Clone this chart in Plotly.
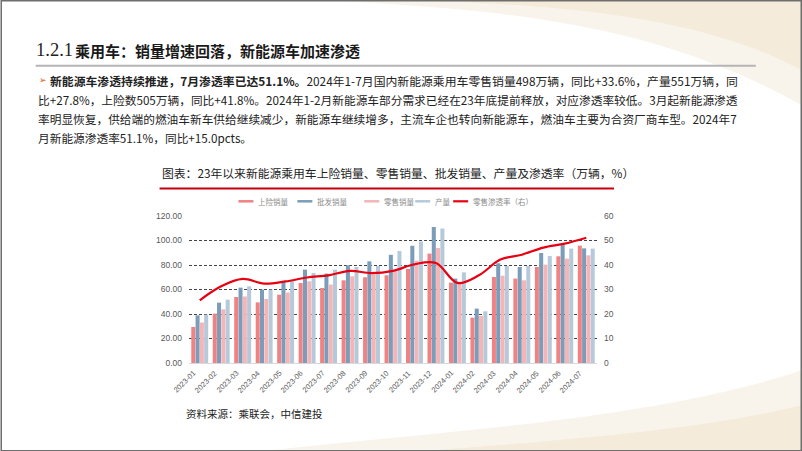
import plotly.graph_objects as go

months = ["2023-01", "2023-02", "2023-03", "2023-04", "2023-05", "2023-06", "2023-07",
          "2023-08", "2023-09", "2023-10", "2023-11", "2023-12", "2024-01", "2024-02",
          "2024-03", "2024-04", "2024-05", "2024-06", "2024-07"]
insured = [29.4, 40.3, 53.9, 49.5, 55.8, 65.3, 61.2, 67.5, 70.0, 71.6, 76.8, 89.3, 65.6, 37.0, 70.2, 68.9, 78.4, 87.1, 95.8]
wholesale = [38.9, 49.3, 61.5, 59.9, 66.1, 76.2, 73.0, 79.8, 83.0, 88.3, 95.7, 111.0, 68.9, 44.4, 81.4, 78.4, 89.8, 96.5, 93.6]
retail = [33.0, 43.8, 54.3, 52.3, 57.5, 66.7, 64.0, 70.8, 72.4, 75.0, 83.5, 93.9, 65.2, 38.4, 71.3, 67.5, 80.3, 85.2, 87.9]
production = [39.5, 51.7, 62.6, 59.9, 66.7, 73.5, 76.2, 78.4, 79.2, 91.4, 99.2, 109.7, 74.0, 42.2, 79.2, 79.2, 87.3, 93.4, 93.4]
penetration = [25.6, 31.3, 34.3, 32.4, 33.3, 34.9, 35.8, 37.6, 36.7, 37.6, 40.3, 40.8, 32.7, 35.8, 42.2, 44.2, 47.1, 48.7, 51.1]

series_names = ["上险销量", "批发销量", "零售销量", "产量"]
series_vals = [insured, wholesale, retail, production]
series_colors = ["#F08283", "#7B9DB9", "#F5B5B6", "#B5C9DA"]
line_name = "零售渗透率（右）"
line_color = "#E60012"

FIG_W, FIG_H = 802, 451
L, R, T, B = 188.5, 597, 215.7, 362.7
W, H = R - L, B - T


def px(x):
    return (x - L) / W


def py(y):
    return (B - y) / H


CJK = "Noto Sans CJK SC"
fig = go.Figure()

for name, vals, col in zip(series_names, series_vals, series_colors):
    fig.add_trace(go.Bar(x=months, y=vals, name=name, marker_color=col,
                         marker_line_width=0, showlegend=False))
fig.add_trace(go.Scatter(x=months, y=penetration, name=line_name, yaxis="y2",
                         mode="lines", line=dict(color=line_color, width=2.2, shape="spline"),
                         showlegend=False))

shapes = []
annotations = []


def path_from(points, close=True):
    s = "M %f,%f " % (px(points[0][0]), py(points[0][1]))
    for p in points[1:]:
        s += "L %f,%f " % (px(p[0]), py(p[1]))
    if close:
        s += "Z"
    return s


def bez(p0, c1, c2, p1, n=30):
    pts = []
    for i in range(n + 1):
        t = i / n
        x = (1 - t) ** 3 * p0[0] + 3 * (1 - t) ** 2 * t * c1[0] + 3 * (1 - t) * t ** 2 * c2[0] + t ** 3 * p1[0]
        y = (1 - t) ** 3 * p0[1] + 3 * (1 - t) ** 2 * t * c1[1] + 3 * (1 - t) * t ** 2 * c2[1] + t ** 3 * p1[1]
        pts.append((x, y))
    return pts


# decorative swooshes
top1 = bez((330, 0), (500, 10), (650, 20), (802, 105)) + [(802, 0)]
top2 = bez((420, 0), (560, 5), (700, 15), (802, 70)) + [(802, 0)]
bot1 = bez((260, 451), (450, 430), (650, 420), (802, 370)) + [(802, 451)]
bot2 = bez((420, 451), (560, 440), (700, 430), (802, 405)) + [(802, 451)]
for pts, op in [(top1, 0.35), (top2, 0.45), (bot1, 0.35), (bot2, 0.45)]:
    shapes.append(dict(type="path", xref="paper", yref="paper", path=path_from(pts),
                       fillcolor="#EEDFC6", opacity=op, line=dict(width=0), layer="below"))

# border
shapes.append(dict(type="rect", xref="paper", yref="paper", x0=px(0.5), x1=px(801.5),
                   y0=py(450.5), y1=py(0.5), line=dict(color="#6E6E6E", width=1.5)))
# title underline
shapes.append(dict(type="line", xref="paper", yref="paper", x0=px(35), x1=px(756),
                   y0=py(65.5), y1=py(65.5), line=dict(color="#B5B5B5", width=2)))
# chart title underline
shapes.append(dict(type="line", xref="paper", yref="paper", x0=px(159), x1=px(614),
                   y0=py(188.3), y1=py(188.3), line=dict(color="#C8000A", width=2)))


def text(x, y, s, size, color="#222222", family=CJK, anchor="left"):
    annotations.append(dict(x=px(x), y=py(y), xref="paper", yref="paper", text=s,
                            showarrow=False, xanchor=anchor, yanchor="middle",
                            font=dict(family=family, size=size, color=color)))


# category labels at 45 degrees, placed on the category axis
for m in months:
    annotations.append(dict(x=m, xref="x", y=py(365.5), yref="paper", text=m,
                            showarrow=False, textangle=-45, xanchor="right", yanchor="top",
                            xshift=1,
                            font=dict(family="Liberation Sans", size=7.5, color="#5A5A5A")))

# legend (short line keys like the reference)
legend_names = series_names + [line_name]
legend_colors = series_colors + [line_color]
legend_x = [238, 297, 364, 415, 453]
for name, col, lx in zip(legend_names, legend_colors, legend_x):
    shapes.append(dict(type="line", xref="paper", yref="paper", x0=px(lx), x1=px(lx + 15),
                       y0=py(201), y1=py(201),
                       line=dict(color=col, width=2.5 if col != line_color else 2.2)))
    text(lx + 18, 201, name, 7.5, "#8C8C8C")

text(33, 50, "1.2.1", 18.5, "#222222", family="Liberation Serif")
text(72, 50, "<b>乘用车：销量增速回落，新能源车加速渗透</b>", 15, "#1A1A1A")
text(36, 80, "➢", 9, "#E8540C", family="DejaVu Sans")
text(47, 80, "<b>新能源车渗透持续推进，7月渗透率已达51.1%。</b>2024年1-7月国内新能源乘用车零售销量498万辆，同比+33.6%，产量551万辆，同", 11.85)
text(35, 99, "比+27.8%，上险数505万辆，同比+41.8%。2024年1-2月新能源车部分需求已经在23年底提前释放，对应渗透率较低。3月起新能源渗透", 11.7)
text(35, 118, "率明显恢复，供给端的燃油车新车供给继续减少，新能源车继续增多，主流车企也转向新能源车，燃油车主要为合资厂商车型。2024年7", 11.7)
text(35, 137, "月新能源渗透率51.1%，同比+15.0pcts。", 11.7)
text(159, 172, "图表：23年以来新能源乘用车上险销量、零售销量、批发销量、产量及渗透率（万辆，%）", 11.8)
text(183, 413, "资料来源：乘联会，中信建投", 10.5)

fig.update_layout(
    width=FIG_W, height=FIG_H,
    margin=dict(l=L, r=FIG_W - R, t=T, b=FIG_H - B, pad=0),
    paper_bgcolor="white", plot_bgcolor="white",
    barmode="group", bargap=0.2, bargroupgap=0.06,
    font=dict(family=CJK, size=8, color="#595959"),
    shapes=shapes, annotations=annotations,
    showlegend=False,
    xaxis=dict(type="category", range=[-0.5, len(months) - 0.5], autorange=False,
               showgrid=False, ticks="", showticklabels=False,
               showline=True, linecolor="#D9D9D9", linewidth=1, automargin=False),
    yaxis=dict(range=[0, 120], dtick=20, tickformat=".2f", showgrid=True,
               gridcolor="#444444", gridwidth=0.8, griddash="3px,2px",
               zeroline=True, zerolinecolor="#D9D9D9", zerolinewidth=1,
               ticks="", ticklabelstandoff=6, automargin=False,
               tickfont=dict(size=8.5, color="#595959", family="Liberation Sans")),
    yaxis2=dict(range=[0, 60], dtick=10, overlaying="y", side="right", showgrid=False,
                zeroline=False, ticks="", ticklabelstandoff=6, automargin=False,
                tickfont=dict(size=8.5, color="#595959", family="Liberation Sans")),
)

fig.write_html("out.html", config={"displayModeBar": False},
               post_script="document.body.style.margin='0';document.body.style.overflow='hidden';")
